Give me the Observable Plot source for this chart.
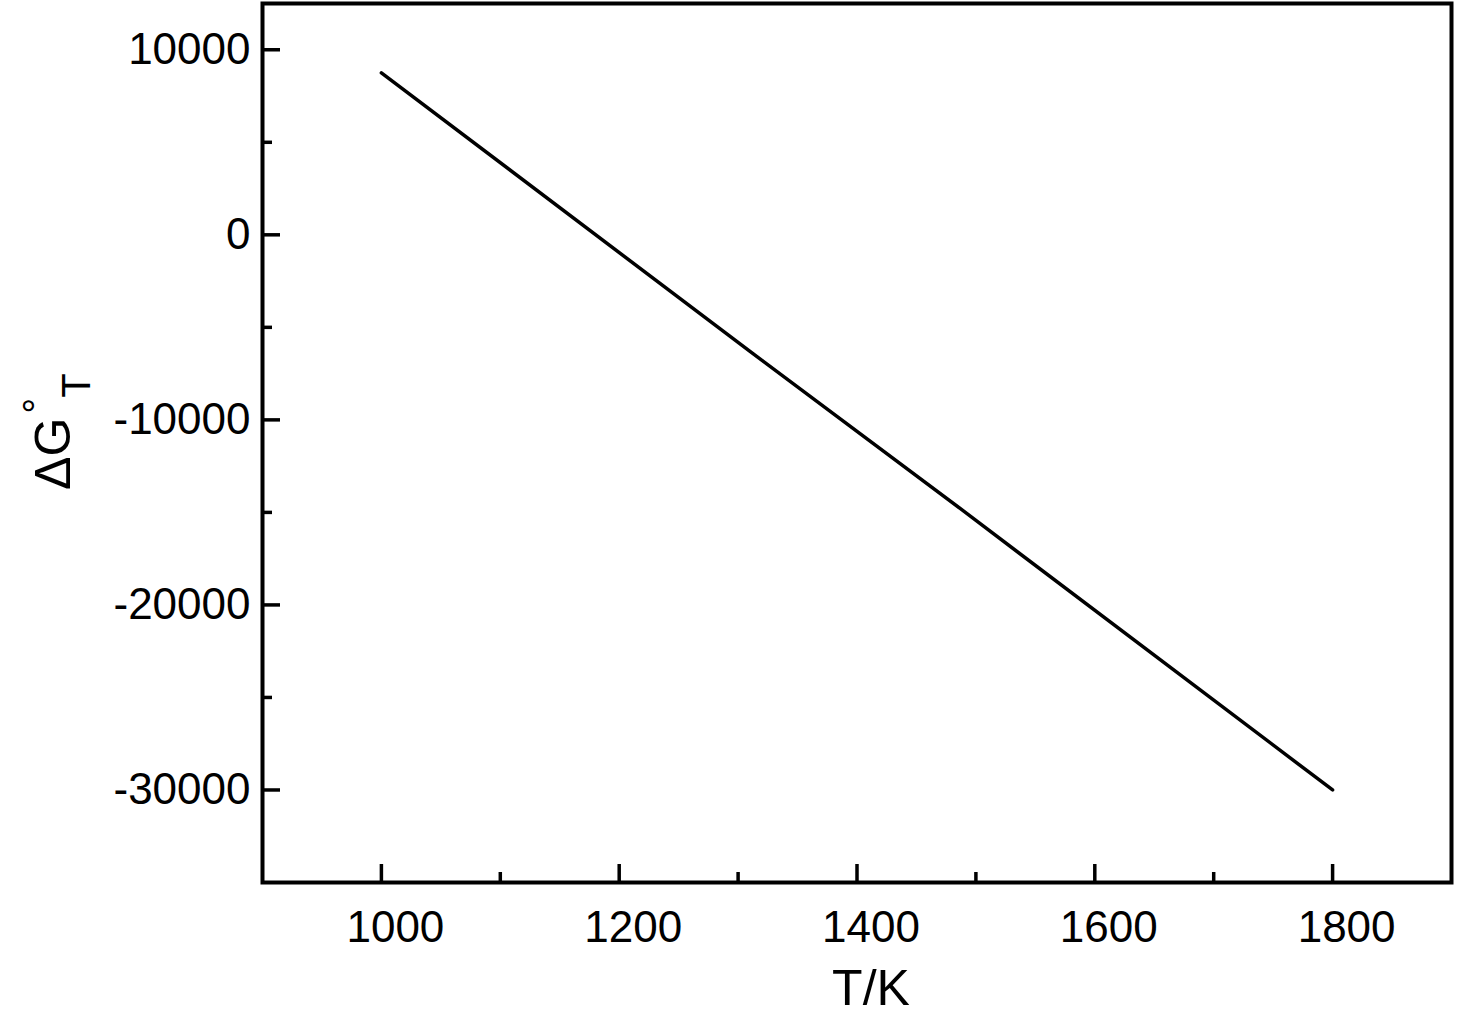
<!DOCTYPE html>
<html><head><meta charset="utf-8">
<script src="https://cdn.jsdelivr.net/npm/d3@7"></script>
<script src="https://cdn.jsdelivr.net/npm/@observablehq/plot@0.6"></script>
<style>body{margin:0;background:#fff;} svg{display:block;}</style>
</head><body><div id="chart"></div>
<script>
const temperatures = [1000, 1310, 1487, 1800];
const deltaG = [8750, -6300, -14800, -30000];
const xMajorTicks = [1000, 1200, 1400, 1600, 1800];
const xMinorTicks = [1100, 1300, 1500, 1700];
const yMajorTicks = [10000, 0, -10000, -20000, -30000];
const yMinorTicks = [5000, -5000, -15000, -25000];
const xDomain = [900, 1900];
const yDomain = [-35000, 12500];
const xLabel = "T/K";

const data = temperatures.map((t, i) => ({T: t, G: deltaG[i]}));
const W = 1457, H = 1018, mL = 262, mR = 6, mT = 3, mB = 136;
const fw = W - mL - mR, fh = H - mT - mB;
const font = "'Liberation Sans', Arial, Helvetica, sans-serif";

const chart = Plot.plot({
  width: W, height: H,
  marginLeft: mL, marginRight: mR, marginTop: mT, marginBottom: mB,
  style: {fontFamily: font, fontSize: "44px", color: "#000", background: "#fff"},
  x: {domain: xDomain},
  y: {domain: yDomain},
  marks: [
    Plot.ruleX(xMajorTicks, {x: d => d, insetTop: fh - 18, strokeWidth: 3.5, stroke: "#000"}),
    Plot.ruleX(xMinorTicks, {x: d => d, insetTop: fh - 10, strokeWidth: 3.5, stroke: "#000"}),
    Plot.ruleY(yMajorTicks, {y: d => d, insetRight: fw - 18, strokeWidth: 3.5, stroke: "#000"}),
    Plot.ruleY(yMinorTicks, {y: d => d, insetRight: fw - 10, strokeWidth: 3.5, stroke: "#000"}),
    Plot.axisX({ticks: xMajorTicks, tickSize: 0, tickPadding: 28, dx: 14, tickFormat: d => String(d), label: null, fontSize: 44}),
    Plot.axisY({ticks: yMajorTicks, tickSize: 0, tickPadding: 12, tickFormat: d => String(d), label: null, fontSize: 44}),
    Plot.line(data, {x: "T", y: "G", stroke: "#000", strokeWidth: 3.5}),
    Plot.frame({stroke: "#000", strokeWidth: 4}),
    Plot.text([xLabel], {text: d => d, frameAnchor: "bottom", dy: 122, dx: 14, fontSize: 50, fill: "#000"})
  ]
});
document.getElementById("chart").appendChild(chart);

// Y-axis label with superscript and subscript
const svg = d3.select(chart);
const t = svg.append("text")
  .attr("transform", "translate(70,490) rotate(-90)")
  .attr("font-family", font)
  .attr("fill", "#000")
  .attr("text-anchor", "start");
t.append("tspan").attr("font-size", 50).text("ΔG");
t.append("tspan").attr("font-size", 40).attr("dy", -19).attr("dx", 4).text("°");
t.append("tspan").attr("font-size", 40).attr("dy", 39).text("T");
</script>
</body></html>
